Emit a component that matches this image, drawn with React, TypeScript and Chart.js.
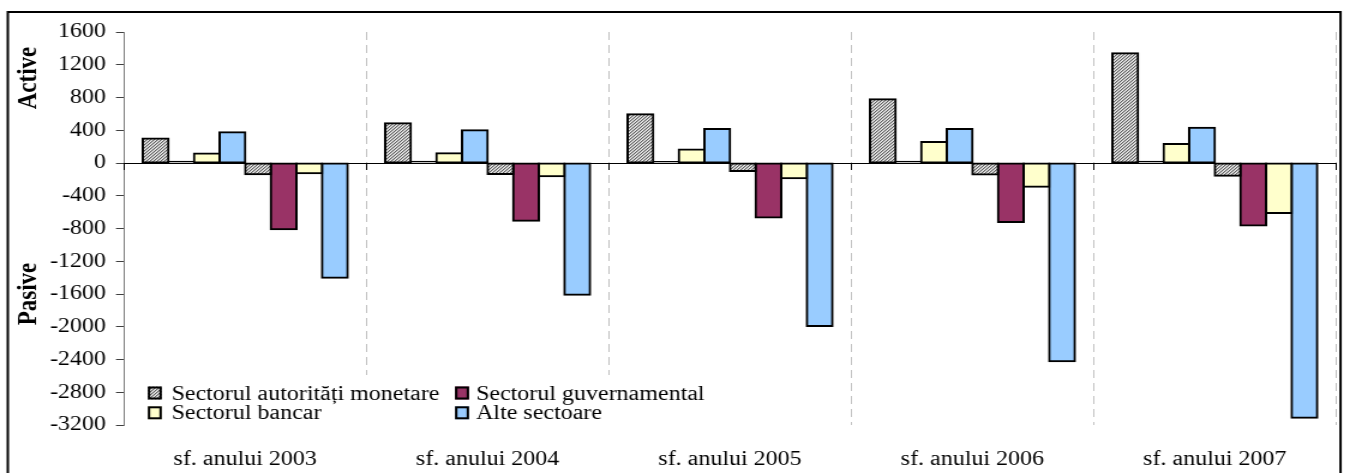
import React, { useEffect, useRef } from "react";
import { Chart, registerables } from "chart.js";

Chart.register(...registerables);

// ---------- data ----------
const categories = [
  "sf. anului 2003",
  "sf. anului 2004",
  "sf. anului 2005",
  "sf. anului 2006",
  "sf. anului 2007",
];
const sectorNames = [
  "Sectorul autorități monetare",
  "Sectorul guvernamental",
  "Sectorul bancar",
  "Alte sectoare",
];
const axisTitles = ["Active", "Pasive"];

const activeMonetary = [300, 485, 595, 780, 1340];
const activeGovernment = [28, 26, 25, 26, 28];
const activeBanking = [115, 120, 165, 258, 232];
const activeOther = [375, 400, 415, 415, 431];
const passiveMonetary = [-138, -135, -98, -139, -155];
const passiveGovernment = [-810, -704, -665, -720, -762];
const passiveBanking = [-125, -163, -187, -290, -612];
const passiveOther = [-1400, -1610, -1990, -2420, -3110];

const yMin = -3200;
const yMax = 1600;
const yStep = 400;

// ---------- geometry ----------
const S = 1.2; // horizontal stretch of the picture
const W = 1121;
const H = 473;
const px = (x: number) => x / S;
const FONT = '"Liberation Serif", "Times New Roman", serif';

function makeHatch(): CanvasPattern | string {
  const n = 3;
  const c = document.createElement("canvas");
  c.width = n;
  c.height = n;
  const g = c.getContext("2d");
  if (!g) return "#b0b0b0";
  const img = g.createImageData(n, n);
  const shades = [95, 185, 240];
  for (let y = 0; y < n; y++) {
    for (let x = 0; x < n; x++) {
      const v = shades[(x + y) % n];
      const i = (y * n + x) * 4;
      img.data[i] = v;
      img.data[i + 1] = v;
      img.data[i + 2] = v;
      img.data[i + 3] = 255;
    }
  }
  g.putImageData(img, 0, 0);
  return g.createPattern(c, "repeat") || "#b0b0b0";
}

export default function App() {
  const ref = useRef<HTMLCanvasElement>(null);

  useEffect(() => {
    document.body.style.overflow = "hidden";
    const canvas = ref.current;
    if (!canvas) return;
    const hatch = makeHatch();
    const sectorColors: any[] = [hatch, "#993366", "#FFFFCC", "#99CCFF"];

    const series = [
      { data: activeMonetary, s: 0 },
      { data: activeGovernment, s: 1, thin: true },
      { data: activeBanking, s: 2 },
      { data: activeOther, s: 3 },
      { data: passiveMonetary, s: 0 },
      { data: passiveGovernment, s: 1 },
      { data: passiveBanking, s: 2 },
      { data: passiveOther, s: 3 },
    ];

    const decor = {
      id: "decor",
      beforeDraw(chart: any) {
        const ctx = chart.ctx as CanvasRenderingContext2D;
        ctx.save();
        ctx.strokeStyle = "#000";
        ctx.lineWidth = 2;
        ctx.strokeRect(px(7.8), 12, px(1340.5) - px(7.8), 480);
        ctx.fillStyle = "#000";
        ctx.font = `bold 23px ${FONT}`;
        ctx.textAlign = "center";
        ctx.textBaseline = "alphabetic";
        const titlePos: [string, number][] = [
          [axisTitles[0], 78],
          [axisTitles[1], 294],
        ];
        titlePos.forEach(([t, y]) => {
          ctx.save();
          ctx.translate(px(36), y);
          ctx.rotate(-Math.PI / 2);
          ctx.fillText(t, 0, 0);
          ctx.restore();
        });
        ctx.restore();
      },
      afterDatasetsDraw(chart: any) {
        const ctx = chart.ctx as CanvasRenderingContext2D;
        const xs = chart.scales.x;
        const ys = chart.scales.y;
        const zeroY = ys.getPixelForValue(0);
        const w = xs.getPixelForValue(1) - xs.getPixelForValue(0);
        ctx.save();
        ctx.strokeStyle = "#000";
        ctx.lineWidth = 1;
        for (let i = 0; i <= categories.length; i++) {
          const bx = Math.round(xs.getPixelForValue(0) - w / 2 + i * w) + 0.5;
          ctx.beginPath();
          ctx.moveTo(bx, zeroY);
          ctx.lineTo(bx, zeroY + 7);
          ctx.stroke();
        }
        // legend
        const area = chart.chartArea;
        ctx.fillStyle = "#fff";
        ctx.fillRect(px(145), 375, px(706) - px(145), area.bottom - 375 + 2);
        const entries = [
          { s: 0, x: 147.8, tx: 171.5, b: 399.5 },
          { s: 1, x: 455, tx: 476, b: 399.5 },
          { s: 2, x: 147.8, tx: 171.5, b: 419.3 },
          { s: 3, x: 455, tx: 476, b: 419.3 },
        ];
        ctx.font = `20px ${FONT}`;
        ctx.textAlign = "left";
        ctx.textBaseline = "alphabetic";
        entries.forEach((e) => {
          const ix = px(e.x);
          const iw = px(14);
          const top = e.b - 13;
          ctx.fillStyle = sectorColors[e.s];
          ctx.fillRect(ix, top, iw, 13);
          ctx.strokeStyle = "#000";
          ctx.lineWidth = 2;
          ctx.strokeRect(ix + 1, top + 1, iw - 2, 11);
          ctx.fillStyle = "#000";
          ctx.fillText(sectorNames[e.s], px(e.tx), e.b);
        });
        ctx.restore();
      },
    };

    const chart = new Chart(canvas, {
      type: "bar",
      data: {
        labels: categories,
        datasets: series.map((d) => ({
          label: sectorNames[d.s],
          data: d.data,
          backgroundColor: sectorColors[d.s],
          borderColor: "#000",
          borderWidth: 2,
          borderSkipped: false,
          inflateAmount: d.thin ? 0 : 1,
          categoryPercentage: 0.845,
          barPercentage: 1,
        })),
      },
      options: {
        animation: false,
        responsive: false,
        devicePixelRatio: 1,
        layout: { padding: { top: 32, left: 0, right: W - px(1336), bottom: 0 } },
        plugins: {
          legend: { display: false },
          tooltip: { enabled: false },
        },
        scales: {
          x: {
            grid: {
              color: "#c0c0c0",
              lineWidth: 1,
              drawTicks: false,
              offset: true,
            },
            border: { display: false, dash: [8, 5] },
            ticks: {
              font: { family: FONT, size: 20 },
              color: "#000",
              padding: 23,
              maxRotation: 0,
              autoSkip: false,
            },
            afterFit: (s: any) => {
              s.height = 48;
            },
          },
          y: {
            min: yMin,
            max: yMax,
            ticks: {
              stepSize: yStep,
              font: { family: FONT, size: 20 },
              color: "#000",
              padding: 8.3,
              callback: (v: any) => String(v),
            },
            grid: {
              color: (c: any) =>
                c.tick && c.tick.value === 0 ? "#000" : "rgba(0,0,0,0)",
              tickColor: "#404040",
              tickLength: 6.7,
              lineWidth: 1,
            },
            border: { display: true, color: "#808080", width: 1 },
            afterFit: (s: any) => {
              s.width = px(124);
            },
          },
        },
      },
      plugins: [decor],
    } as any);

    return () => chart.destroy();
  }, []);

  return (
    <div
      style={{
        position: "absolute",
        left: 0,
        top: 0,
        width: W,
        height: H,
        transform: `scaleX(${S})`,
        transformOrigin: "0 0",
      }}
    >
      <canvas
        ref={ref}
        width={W}
        height={H}
        style={{ width: W, height: H, display: "block" }}
      />
    </div>
  );
}
